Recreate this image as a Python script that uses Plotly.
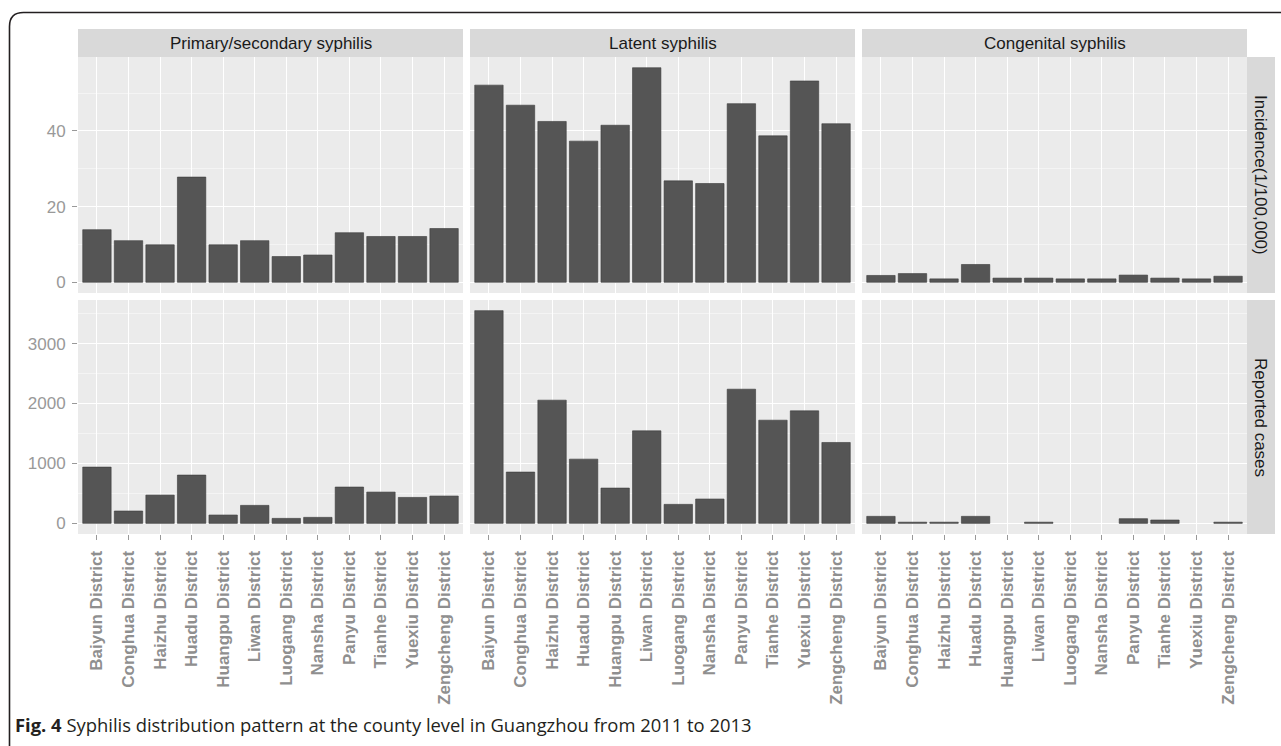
import plotly.graph_objects as go

# ---------------- data ----------------
districts = ["Baiyun District", "Conghua District", "Haizhu District", "Huadu District",
             "Huangpu District", "Liwan District", "Luogang District", "Nansha District",
             "Panyu District", "Tianhe District", "Yuexiu District", "Zengcheng District"]

facet_cols = ["Primary/secondary syphilis", "Latent syphilis", "Congenital syphilis"]
facet_rows = ["Incidence(1/100,000)", "Reported cases"]

incidence_primary = [13.9, 11.0, 9.9, 27.8, 9.9, 11.0, 6.8, 7.2, 13.1, 12.1, 12.1, 14.2]
incidence_latent = [52.1, 46.8, 42.5, 37.3, 41.5, 56.7, 26.8, 26.1, 47.2, 38.7, 53.2, 41.9]
incidence_congenital = [1.8, 2.3, 0.9, 4.7, 1.1, 1.1, 0.9, 0.9, 1.9, 1.1, 0.9, 1.6]

cases_primary = [939, 206, 472, 806, 139, 300, 83, 100, 606, 522, 433, 456]
cases_latent = [3550, 856, 2056, 1072, 589, 1544, 317, 406, 2239, 1722, 1878, 1350]
cases_congenital = [117, 20, 20, 117, 0, 20, 0, 0, 78, 56, 0, 20]

caption = "<b>Fig. 4</b> Syphilis distribution pattern at the county level in Guangzhou from 2011 to 2013"

rows_data = [
    [incidence_primary, incidence_latent, incidence_congenital],
    [cases_primary, cases_latent, cases_congenital],
]
row_dtick = [20, 1000]

# ---------------- layout geometry (pixels) ----------------
W, H = 1281, 746
col_px = [(78, 463), (470, 855), (862, 1247)]
row_px = [(57, 293), (300, 534)]
strip_top = (29, 57)
strip_right = (1247, 1275)

def px(x):
    return x / W

def py(y):
    return 1 - y / H

PANEL_BG = "#EBEBEB"
STRIP_BG = "#D9D9D9"
BAR_FILL = "#555555"
TICK_COL = "#999999"
TEXT_COL = "#1A1A1A"

fig = go.Figure()
layout = dict(
    width=W, height=H,
    margin=dict(l=0, r=0, t=0, b=0),
    paper_bgcolor="white",
    plot_bgcolor=PANEL_BG,
    showlegend=False,
    bargap=0.1,
    font=dict(family="Liberation Sans, Arial", color=TICK_COL),
)

shapes = []
annotations = []

for r in range(2):
    vals_max = max(max(v) for v in rows_data[r])
    yr = [-0.05 * vals_max, 1.05 * vals_max]
    for c in range(3):
        idx = r * 3 + c + 1
        xa = "x" if idx == 1 else f"x{idx}"
        ya = "y" if idx == 1 else f"y{idx}"
        vals = rows_data[r][c]
        fig.add_trace(go.Bar(
            x=districts, y=vals, xaxis=xa, yaxis=ya,
            marker=dict(color=BAR_FILL,
                        line=dict(color="#3A3A3A", width=[0 if v == 0 else 0.6 for v in vals])),
            hoverinfo="x+y",
        ))
        xkey = "xaxis" if idx == 1 else f"xaxis{idx}"
        ykey = "yaxis" if idx == 1 else f"yaxis{idx}"
        bottom = (r == 1)
        left = (c == 0)
        layout[xkey] = dict(
            domain=[px(col_px[c][0]), px(col_px[c][1])],
            anchor=ya,
            type="category",
            categoryorder="array", categoryarray=districts,
            range=[-0.6, 11.6],
            showgrid=True, gridcolor="white", gridwidth=1.2,
            zeroline=False, showline=False,
            showticklabels=bottom,
            ticks="outside" if bottom else "",
            ticklen=5, tickcolor=TICK_COL, tickwidth=1,
            tickangle=-90,
            ticklabelstandoff=4,
            tickfont=dict(family="Liberation Sans, Arial", size=17, color="#8F8F8F", weight="bold"),
            fixedrange=True,
        )
        layout[ykey] = dict(
            domain=[py(row_px[r][1]), py(row_px[r][0])],
            anchor=xa,
            range=yr,
            dtick=row_dtick[r], tick0=0,
            showgrid=True, gridcolor="white", gridwidth=1.2,
            minor=dict(dtick=row_dtick[r] / 2, tick0=0, showgrid=True, gridcolor="#F4F4F4", gridwidth=0.8),
            zeroline=False, showline=False,
            showticklabels=left,
            ticks="outside" if left else "",
            ticklen=5, tickcolor=TICK_COL, tickwidth=1,
            tickfont=dict(family="Liberation Sans, Arial", size=17, color=TICK_COL),
            ticklabelstandoff=3,
            fixedrange=True,
        )

# top strips
for c in range(3):
    shapes.append(dict(type="rect", xref="paper", yref="paper",
                       x0=px(col_px[c][0]), x1=px(col_px[c][1]),
                       y0=py(strip_top[1]), y1=py(strip_top[0]),
                       fillcolor=STRIP_BG, line=dict(width=0), layer="below"))
    annotations.append(dict(xref="paper", yref="paper",
                            x=px((col_px[c][0] + col_px[c][1]) / 2),
                            y=py((strip_top[0] + strip_top[1]) / 2),
                            text=facet_cols[c], showarrow=False,
                            xanchor="center", yanchor="middle",
                            font=dict(family="Liberation Sans, Arial", size=17, color=TEXT_COL)))
# right strips
for r in range(2):
    shapes.append(dict(type="rect", xref="paper", yref="paper",
                       x0=px(strip_right[0]), x1=px(strip_right[1]),
                       y0=py(row_px[r][1]), y1=py(row_px[r][0]),
                       fillcolor=STRIP_BG, line=dict(width=0), layer="below"))
    annotations.append(dict(xref="paper", yref="paper",
                            x=px((strip_right[0] + strip_right[1]) / 2),
                            y=py((row_px[r][0] + row_px[r][1]) / 2),
                            text=facet_rows[r], showarrow=False, textangle=90,
                            xanchor="center", yanchor="middle",
                            font=dict(family="Liberation Sans, Arial", size=17, color=TEXT_COL)))

# outer figure border (rounded top-left corner, open at right/bottom)
rx, ry = 14 / W, 14 / H
x0b, y0b = px(9.5), py(12.5)
path = (f"M {x0b},{py(746)} L {x0b},{y0b - ry} Q {x0b},{y0b} {x0b + rx},{y0b} L {px(1281)},{y0b}")
shapes.append(dict(type="path", xref="paper", yref="paper", path=path,
                   line=dict(color="#231F20", width=1.6)))

# caption
annotations.append(dict(xref="paper", yref="paper", x=px(13), y=py(724),
                        text=caption, showarrow=False, xanchor="left", yanchor="middle",
                        font=dict(family="Open Sans", size=18.4, color="#231F20")))

layout["shapes"] = shapes
layout["annotations"] = annotations
fig.update_layout(**layout)

fig.write_html(
    "out.html",
    config={"displayModeBar": False},
    post_script="document.body.style.margin='0';document.body.style.overflow='hidden';",
)
